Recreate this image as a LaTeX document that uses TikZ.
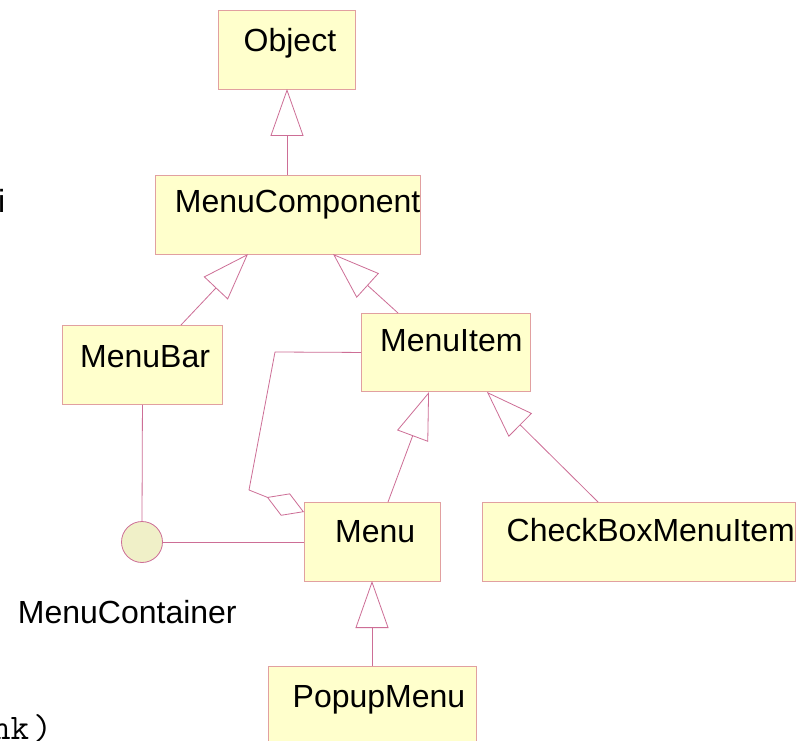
\documentclass[tikz,border=0pt]{standalone}
\usepackage{fontspec}
\setmainfont{Liberation Sans}
\usetikzlibrary{arrows.meta}

\definecolor{boxfill}{RGB}{255,255,204}
\definecolor{boxline}{RGB}{225,160,160}
\definecolor{linkcol}{RGB}{205,110,150}
\definecolor{ifacefill}{RGB}{240,240,200}

\tikzset{
  classbox/.style={draw=boxline, fill=boxfill, line width=0.9pt, rectangle,
    inner sep=0pt, anchor=north west},
  ifacecircle/.style={draw=linkcol, fill=ifacefill, line width=0.8pt, circle,
    inner sep=0pt, minimum size=41pt},
  classname/.style={anchor=base west, inner sep=0pt,
    font=\fontsize{32}{38}\selectfont},
  link/.style={draw=linkcol, line width=0.8pt},
  inherits/.style={link, -{Triangle[open, length=47pt, width=33pt, fill=white]}},
  aggregates/.style={link, line join=round, -{Diamond[open, length=40pt, width=24pt, fill=white]}},
}

\begin{document}
\begin{tikzpicture}[x=1pt, y=-1pt]
  \fill[white] (0,0) rectangle (807,741);
  \useasboundingbox (0,0) rectangle (807,741);

  % class boxes
  \node[classbox, minimum width=137pt, minimum height=79pt] (obj)   at (218,10)  {};
  \node[classbox, minimum width=265pt, minimum height=79pt] (comp)  at (155,175) {};
  \node[classbox, minimum width=160pt, minimum height=79pt] (bar)   at (62,325)  {};
  \node[classbox, minimum width=169pt, minimum height=78pt] (item)  at (361,313) {};
  \node[classbox, minimum width=136pt, minimum height=79pt] (menu)  at (304,502) {};
  \node[classbox, minimum width=313pt, minimum height=79pt] (check) at (482,502) {};
  \node[classbox, minimum width=208pt, minimum height=90pt] (popup) at (268,666) {};

  % interface lollipop
  \node[ifacecircle] (cont) at (142,542) {};

  % class names
  \node[classname] (objname)   at (243.5,52)  {Object};
  \node[classname] (compname)  at (174.7,213) {MenuComponent};
  \node[classname] (barname)   at (80,367)    {MenuBar};
  \node[classname] (itemname)  at (380,352)   {MenuItem};
  \node[classname] (menuname)  at (335,542)   {Menu};
  \node[classname] (checkname) at (506.5,541) {CheckBoxMenuItem};
  \node[classname] (popupname) at (292.5,707) {PopupMenu};
  \node[classname] (contname)  at (17.7,623)  {MenuContainer};
  \node[classname] (stray)     at (-2,213)    {i};
  \node[anchor=base west, inner sep=0pt, font=\ttfamily\fontsize{36}{40}\selectfont]
    (linknote) at (-8,739) {nk\kern4pt)};

  % attachment points on the box borders
  \coordinate (objB)    at (287,89);
  \coordinate (compT)   at (287,175);
  \coordinate (compBL)  at (248,254);
  \coordinate (compBR)  at (333,254);
  \coordinate (barT)    at (181,325);
  \coordinate (itemT)   at (398,313);
  \coordinate (itemBL)  at (429,392);
  \coordinate (itemBR)  at (487,392);
  \coordinate (menuT)   at (388,502);
  \coordinate (menuB)   at (372,581);
  \coordinate (menuW)   at (304,512);
  \coordinate (checkT)  at (598,502);
  \coordinate (popupT)  at (372,666);
  \coordinate (aggA)    at (275,352);
  \coordinate (aggB)    at (249,490);

  % generalizations
  \draw[inherits] (compT)  -- (objB);
  \draw[inherits] (barT)   -- (compBL);
  \draw[inherits] (itemT)  -- (compBR);
  \draw[inherits] (menuT)  -- (itemBL);
  \draw[inherits] (checkT) -- (itemBR);
  \draw[inherits] (popupT) -- (menuB);

  % aggregation: MenuItem contained in Menu
  \draw[aggregates] (item.west) -- (aggA) -- (aggB) -- (menuW);

  % MenuContainer interface links
  \draw[link] (bar.south) -- (cont.north);
  \draw[link] (cont.east) -- (menu.west |- cont.east);
\end{tikzpicture}
\end{document}
